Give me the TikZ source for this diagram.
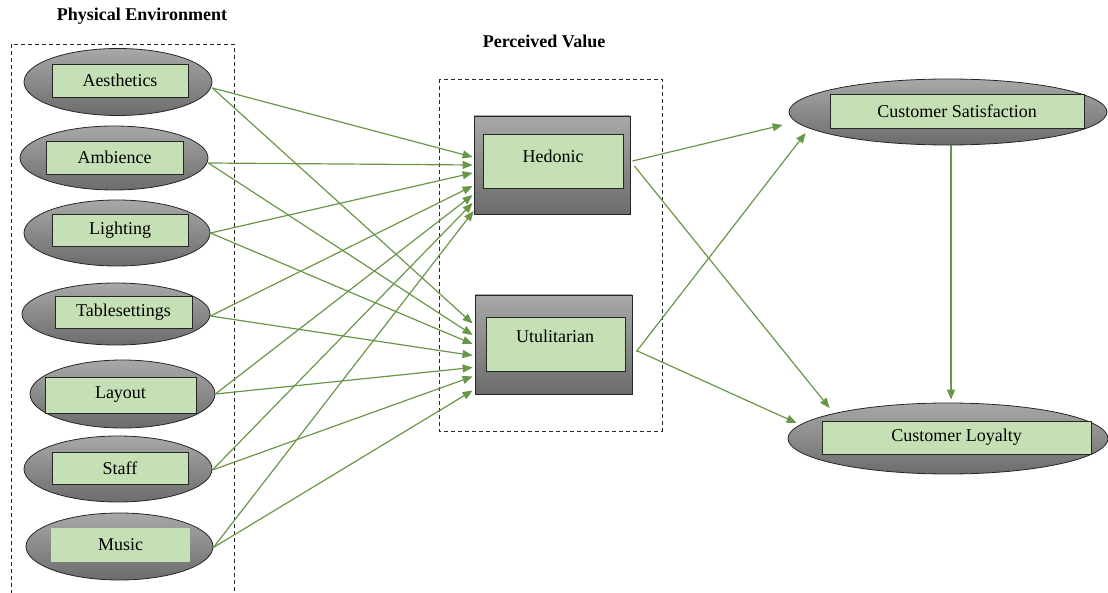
\documentclass[tikz,border=0pt]{standalone}
\usepackage{fontspec}
\setmainfont{Liberation Serif}
\usetikzlibrary{shapes.geometric,arrows.meta}
\definecolor{arr}{RGB}{106,150,72}
\definecolor{lgreen}{RGB}{197,224,180}
\definecolor{gtop}{RGB}{168,168,168}
\definecolor{gbot}{RGB}{108,108,108}
\begin{document}
\begin{tikzpicture}[x=1pt,y=-1pt,
  oval/.style={ellipse, draw=black!85, line width=0.8pt, top color=gtop, bottom color=gbot, inner sep=0pt},
  outerbox/.style={rectangle, draw=black!85, line width=0.8pt, top color=gtop, bottom color=gbot, inner sep=0pt},
  lab/.style={rectangle, draw=black!85, line width=0.8pt, fill=lgreen, inner sep=0pt, font=\fontsize{18}{21}\selectfont},
  labnb/.style={rectangle, fill=lgreen, inner sep=0pt, font=\fontsize{18}{21}\selectfont},
  txt/.style={inner sep=0pt, font=\fontsize{18}{21}\selectfont},
  title/.style={inner sep=0pt, font=\fontsize{18}{21}\selectfont\bfseries},
  frame/.style={draw=black!85, dashed, dash pattern=on 4pt off 3pt, line width=0.8pt},
  conn/.style={draw=arr, line width=1.2pt, -{Triangle[length=10pt,width=8pt]}}
]
\useasboundingbox (0,0) rectangle (1108,593);

% titles
\node[title] (t1) at (142,16) {Physical Environment};
\node[title] (t2) at (544,41) {Perceived Value};

% frames
\draw[frame] (11,594) -- (11,44) -- (234,44) -- (234,594);
\draw[frame] (439,79) rectangle (662,431);

% left ellipses
\node[oval, minimum width=188pt, minimum height=67pt] (e1) at (118,82) {};
\node[lab, minimum width=136pt, minimum height=33pt] (r1) at (120,80.5) {Aesthetics};
\node[oval, minimum width=188pt, minimum height=64pt] (e2) at (114,158) {};
\node[lab, minimum width=137pt, minimum height=33pt] (r2) at (114.5,157.5) {Ambience};
\node[oval, minimum width=186pt, minimum height=66pt] (e3) at (117,233) {};
\node[lab, minimum width=136pt, minimum height=32pt] (r3) at (120,230) {Lighting};
\node[oval, minimum width=188pt, minimum height=62pt] (e4) at (116,314) {};
\node[lab, minimum width=137pt, minimum height=32pt] (r4) at (123.5,312) {Tablesettings};
\node[oval, minimum width=185pt, minimum height=68pt] (e5) at (122.5,394) {};
\node[lab, minimum width=151pt, minimum height=36pt] (r5) at (120.5,395) {Layout};
\node[oval, minimum width=188pt, minimum height=66pt] (e6) at (118,469) {};
\node[lab, minimum width=136pt, minimum height=32pt] (r6) at (120,468) {Staff};
\node[oval, minimum width=187pt, minimum height=67pt] (e7) at (119.5,546.5) {};
\node[labnb, minimum width=139pt, minimum height=34pt] (r7) at (120.5,545) {Music};

% perceived value boxes
\node[outerbox, minimum width=156pt, minimum height=98pt] (hed) at (552,165) {};
\node[lab, minimum width=140pt, minimum height=54pt] (hedin) at (553,161) {};
\node[txt] (hedt) at (553,156) {Hedonic};
\node[outerbox, minimum width=157pt, minimum height=99pt] (utl) at (553.5,344.5) {};
\node[lab, minimum width=139pt, minimum height=54pt] (utlin) at (555.5,344) {};
\node[txt] (utlt) at (555,336) {Utulitarian};

% outcomes
\node[oval, minimum width=318pt, minimum height=66pt] (sat) at (948,112) {};
\node[lab, minimum width=254pt, minimum height=34pt] (satin) at (957,111) {Customer Satisfaction};
\node[oval, minimum width=320pt, minimum height=71pt] (loy) at (948,438.5) {};
\node[lab, minimum width=269pt, minimum height=33pt] (loyin) at (956.5,437.5) {Customer Loyalty};

% connectors to Hedonic
\draw[conn] ([yshift=-6pt]e1.east) -- ([xshift=-1pt,yshift=8pt]hed.west);
\draw[conn] ([yshift=-5pt]e2.east) -- ([xshift=-1pt,yshift=0pt]hed.west);
\draw[conn] ([yshift=0pt]e3.east) -- ([xshift=-1pt,yshift=-8pt]hed.west);
\draw[conn] ([yshift=-2pt]e4.east) -- ([xshift=-1pt,yshift=-21pt]hed.west);
\draw[conn] ([yshift=0pt]e5.east) -- ([xshift=-1pt,yshift=-30pt]hed.west);
\draw[conn] ([yshift=-1pt]e6.east) -- ([xshift=-1pt,yshift=-38pt]hed.west);
\draw[conn] ([yshift=-1pt]e7.east) -- ([xshift=0pt,yshift=-46pt]hed.west);

% connectors to Utulitarian
\draw[conn] ([yshift=-6pt]e1.east) -- ([xshift=-2pt,yshift=21pt]utl.west);
\draw[conn] ([yshift=-5pt]e2.east) -- ([xshift=-2pt,yshift=9.5pt]utl.west);
\draw[conn] ([yshift=0pt]e3.east) -- ([xshift=-2pt,yshift=0.5pt]utl.west);
\draw[conn] ([yshift=-2pt]e4.east) -- ([xshift=-2pt,yshift=-11pt]utl.west);
\draw[conn] ([yshift=0pt]e5.east) -- ([xshift=-2pt,yshift=-23pt]utl.west);
\draw[conn] ([yshift=-1pt]e6.east) -- ([xshift=-2pt,yshift=-32pt]utl.west);
\draw[conn] ([yshift=-1pt]e7.east) -- ([xshift=-2pt,yshift=-46pt]utl.west);

% to outcomes
\draw[conn] ([xshift=2pt,yshift=4pt]hed.east) -- ([xshift=-6pt,yshift=-13pt]sat.west);
\draw[conn] ([xshift=4pt,yshift=-1pt]hed.east) -- ([xshift=42pt,yshift=30.5pt]loy.west);
\draw[conn] ([xshift=4pt,yshift=-7pt]utl.east) -- ([xshift=17pt,yshift=-21pt]sat.west);
\draw[conn] ([xshift=4pt,yshift=-6pt]utl.east) -- ([xshift=9pt,yshift=15.5pt]loy.west);
\draw[conn] ([xshift=3pt]sat.south) -- ([xshift=3pt,yshift=3pt]loy.north);
\end{tikzpicture}
\end{document}
